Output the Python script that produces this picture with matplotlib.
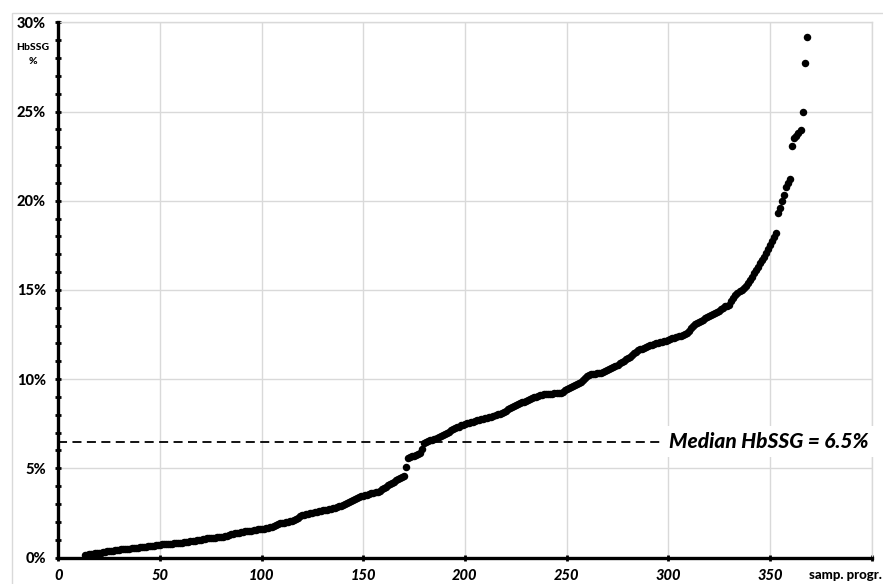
import matplotlib
matplotlib.use('Agg')
import matplotlib.pyplot as plt
from matplotlib.ticker import MultipleLocator, FixedLocator
from matplotlib.patches import Rectangle
import numpy as np

plt.rcParams['font.family'] = ['Lato', 'DejaVu Sans']

# ---- data ----
first_sample = 13
hbssg_pct = [
    0.12, 0.15, 0.17, 0.19, 0.21, 0.23, 0.25, 0.27, 0.28, 0.30,
    0.32, 0.34, 0.35, 0.37, 0.38, 0.40, 0.41, 0.43, 0.45, 0.46,
    0.48, 0.49, 0.50, 0.52, 0.53, 0.54, 0.56, 0.57, 0.58, 0.60,
    0.61, 0.62, 0.64, 0.65, 0.67, 0.68, 0.70, 0.72, 0.73, 0.74,
    0.75, 0.76, 0.77, 0.78, 0.79, 0.80, 0.81, 0.82, 0.83, 0.85,
    0.87, 0.89, 0.91, 0.93, 0.95, 0.97, 0.98, 1.00, 1.03, 1.05,
    1.07, 1.09, 1.10, 1.11, 1.12, 1.13, 1.14, 1.15, 1.16, 1.18,
    1.22, 1.26, 1.30, 1.33, 1.36, 1.38, 1.40, 1.42, 1.44, 1.46,
    1.47, 1.49, 1.51, 1.53, 1.55, 1.57, 1.59, 1.60, 1.62, 1.64,
    1.67, 1.70, 1.73, 1.75, 1.80, 1.86, 1.92, 1.94, 1.96, 1.98,
    2.01, 2.04, 2.07, 2.10, 2.16, 2.22, 2.30, 2.38, 2.41, 2.44,
    2.46, 2.49, 2.52, 2.54, 2.57, 2.60, 2.62, 2.64, 2.66, 2.68,
    2.71, 2.74, 2.77, 2.80, 2.82, 2.86, 2.90, 2.95, 3.00, 3.06,
    3.13, 3.18, 3.23, 3.28, 3.33, 3.38, 3.42, 3.45, 3.48, 3.52,
    3.55, 3.59, 3.62, 3.66, 3.69, 3.75, 3.82, 3.90, 3.97, 4.04,
    4.11, 4.18, 4.25, 4.32, 4.38, 4.44, 4.50, 4.58, 5.10, 5.60,
    5.63, 5.67, 5.70, 5.74, 5.78, 5.84, 6.07, 6.44, 6.48, 6.52,
    6.56, 6.60, 6.64, 6.69, 6.75, 6.81, 6.88, 6.94, 7.00, 7.06,
    7.12, 7.18, 7.24, 7.29, 7.34, 7.40, 7.45, 7.50, 7.53, 7.56,
    7.59, 7.62, 7.65, 7.68, 7.71, 7.74, 7.78, 7.81, 7.84, 7.87,
    7.90, 7.94, 7.98, 8.02, 8.05, 8.10, 8.16, 8.23, 8.30, 8.37,
    8.42, 8.47, 8.53, 8.58, 8.64, 8.69, 8.74, 8.79, 8.83, 8.88,
    8.93, 8.97, 9.02, 9.07, 9.11, 9.13, 9.15, 9.16, 9.17, 9.18,
    9.19, 9.20, 9.22, 9.23, 9.24, 9.30, 9.37, 9.43, 9.49, 9.55,
    9.61, 9.67, 9.74, 9.80, 9.86, 9.95, 10.05, 10.15, 10.24, 10.26,
    10.28, 10.30, 10.32, 10.34, 10.36, 10.37, 10.43, 10.50, 10.56, 10.62,
    10.68, 10.74, 10.80, 10.88, 10.96, 11.04, 11.11, 11.19, 11.26, 11.35,
    11.44, 11.53, 11.62, 11.67, 11.71, 11.76, 11.80, 11.85, 11.89, 11.93,
    11.97, 12.00, 12.03, 12.07, 12.10, 12.13, 12.16, 12.20, 12.24, 12.28,
    12.32, 12.36, 12.40, 12.44, 12.48, 12.52, 12.57, 12.70, 12.85, 13.00,
    13.10, 13.16, 13.22, 13.28, 13.34, 13.40, 13.46, 13.52, 13.58, 13.64,
    13.69, 13.76, 13.84, 13.92, 14.00, 14.08, 14.12, 14.16, 14.35, 14.55,
    14.72, 14.82, 14.92, 15.00, 15.10, 15.22, 15.37, 15.56, 15.75, 15.94,
    16.12, 16.30, 16.48, 16.66, 16.85, 17.05, 17.28, 17.50, 17.72, 17.95,
    18.18, 19.30, 19.60, 20.00, 20.30, 20.76, 21.00, 21.20, 23.04, 23.50,
    23.65, 23.80, 23.95, 25.00, 27.70, 29.20,
]
median_pct = 6.5
median_label = 'Median HbSSG = 6.5%'
x_ticks = [0, 50, 100, 150, 200, 250, 300, 350, 400]
x_tick_labels = ['0', '50', '100', '150', '200', '250', '300', '350', '']
y_ticks = [0, 5, 10, 15, 20, 25, 30]
y_tick_labels = ['0%', '5%', '10%', '15%', '20%', '25%', '30%']
x_axis_title = 'samp. progr.'

# ---- figure ----
W, H = 883, 584
fig = plt.figure(figsize=(W / 100, H / 100), dpi=100)
fig.patch.set_facecolor('white')
left, right, top, bottom = 58.3, 871.7, 22.3, 557.5
ax = fig.add_axes([left / W, 1 - bottom / H, (right - left) / W, (bottom - top) / H])

x = np.arange(first_sample, first_sample + len(hbssg_pct))
ax.plot(x, hbssg_pct, 'o', color='black', ms=5.4, mew=0, zorder=3, clip_on=False)

ax.set_xlim(0, 400)
ax.set_ylim(0, 30)
ax.xaxis.set_major_locator(FixedLocator(x_ticks))
ax.set_xticklabels(x_tick_labels, fontsize=10.5, fontweight='black', fontstyle='italic')
ax.yaxis.set_major_locator(FixedLocator(y_ticks))
ax.set_yticklabels(y_tick_labels, fontsize=10.5, fontweight='black')
ax.yaxis.set_minor_locator(MultipleLocator(1))

ax.grid(True, which='major', color='#d9d9d9', lw=1)
ax.set_axisbelow(True)
for s in ['top', 'right']:
    ax.spines[s].set_color('#d9d9d9')
    ax.spines[s].set_linewidth(1)
for s in ['left', 'bottom']:
    ax.spines[s].set_color('black')
    ax.spines[s].set_linewidth(2.4)
    ax.spines[s].set_zorder(4)

ax.tick_params(axis='both', which='both', direction='inout', length=4, width=2,
               color='black', top=False, right=False)
ax.tick_params(axis='y', which='major', pad=7)
ax.tick_params(axis='x', which='major', pad=6)

# median line and label
ax.hlines(median_pct, 0, 296, colors='black', linestyles=(0, (5, 3)), lw=1.3, zorder=2)
ax.text(300.5, median_pct, median_label, ha='left', va='center', fontsize=15,
        fontweight='black', fontstyle='italic', zorder=5,
        bbox=dict(facecolor='white', edgecolor='none', pad=4))

# axis titles
fig.text(33 / W, 1 - 48 / H, 'HbSSG', ha='center', va='center', fontsize=7.5, fontweight='black')
fig.text(33 / W, 1 - 62 / H, '%', ha='center', va='center', fontsize=7.5, fontweight='black')
fig.text(809 / W, 1 - 575 / H, x_axis_title, ha='left', va='center', fontsize=9.5, fontweight='black')

# outer chart border
fig.patches.append(Rectangle((12 / W, -0.2), 1.3, 1 - 13 / H + 0.2, transform=fig.transFigure,
                             fill=False, edgecolor='#d9d9d9', lw=1))

fig.savefig('out.png', dpi=100)
